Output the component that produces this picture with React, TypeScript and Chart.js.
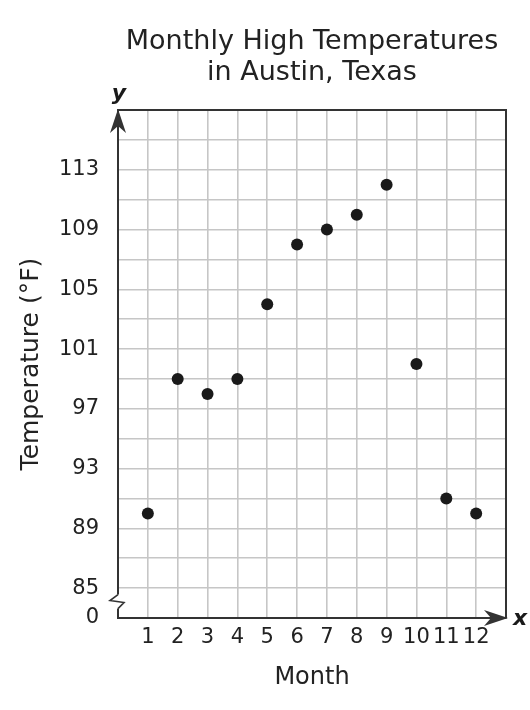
import React, { useEffect, useRef } from "react";
import { Chart, registerables } from "chart.js";

Chart.register(...registerables);

// ---- data ----
const MONTHS = [1, 2, 3, 4, 5, 6, 7, 8, 9, 10, 11, 12];
const HIGH_TEMPS = [90, 99, 98, 99, 104, 108, 109, 110, 112, 100, 91, 90];
const Y_TICK_LABELS = [85, 89, 93, 97, 101, 105, 109, 113];
const Y_BREAK_VALUE = 83; // value drawn as "0" below the axis break
const Y_BREAK_LABEL = "0";
const X_MIN = 0;
const X_MAX = 13;
const Y_MIN = 83;
const Y_MAX = 117;

const TITLE_LINES = ["Monthly High Temperatures", "in Austin, Texas"];
const X_TITLE = "Month";
const Y_TITLE = "Temperature (°F)";

// ---- styles ----
const FONT = "'DejaVu Sans', Verdana, sans-serif";
const TEXT = "#222222";
const GRID = "#c6c6c6";
const AXIS = "#333333";
const DOT = "#1a1a1a";

const decorations = {
  id: "decorations",
  afterDraw(chart: any) {
    const { ctx, chartArea } = chart;
    const { left, right, top, bottom } = chartArea;
    ctx.save();
    // top + right border
    ctx.strokeStyle = AXIS;
    ctx.lineWidth = 2;
    ctx.beginPath();
    ctx.moveTo(left, top);
    ctx.lineTo(right, top);
    ctx.lineTo(right, bottom);
    ctx.stroke();

    ctx.fillStyle = AXIS;
    // y arrow
    ctx.beginPath();
    ctx.moveTo(left, top - 1);
    ctx.lineTo(left - 8, top + 23);
    ctx.lineTo(left, top + 16);
    ctx.lineTo(left + 8, top + 23);
    ctx.closePath();
    ctx.fill();
    // x arrow
    ctx.beginPath();
    ctx.moveTo(right + 2, bottom);
    ctx.lineTo(right - 22, bottom - 8);
    ctx.lineTo(right - 15, bottom);
    ctx.lineTo(right - 22, bottom + 8);
    ctx.closePath();
    ctx.fill();

    // axis break
    const yb = chart.scales.y.getPixelForValue(Y_BREAK_VALUE + 1.1);
    ctx.fillStyle = "#ffffff";
    ctx.fillRect(left - 2, yb - 7, 4, 14);
    ctx.strokeStyle = AXIS;
    ctx.lineWidth = 1.6;
    ctx.beginPath();
    ctx.moveTo(left, yb - 7);
    ctx.lineTo(left - 8, yb - 1);
    ctx.lineTo(left + 6, yb + 1);
    ctx.lineTo(left, yb + 7);
    ctx.stroke();

    // axis letters
    ctx.fillStyle = "#1a1a1a";
    ctx.font = `italic bold 22px ${FONT}`;
    ctx.textAlign = "center";
    ctx.textBaseline = "middle";
    ctx.fillText("y", left + 1, top - 16);
    ctx.fillText("x", right + 14, bottom + 1);
    ctx.restore();
  },
};

export default function App() {
  const ref = useRef<HTMLCanvasElement | null>(null);

  useEffect(() => {
    if (!ref.current) return;
    const chart = new Chart(ref.current, {
      type: "scatter",
      data: {
        datasets: [
          {
            data: MONTHS.map((m, i) => ({ x: m, y: HIGH_TEMPS[i] })),
            backgroundColor: DOT,
            borderWidth: 0,
            pointRadius: 6,
            pointHoverRadius: 6,
          },
        ],
      },
      options: {
        responsive: false,
        animation: false,
        layout: { padding: { left: 0, right: 24, top: 0, bottom: 0 } },
        plugins: {
          legend: { display: false },
          tooltip: { enabled: false },
          title: {
            display: true,
            text: TITLE_LINES,
            fullSize: false,
            color: TEXT,
            font: { family: FONT, size: 27, weight: "normal", lineHeight: 1.15 },
            padding: { top: 26, bottom: 22 },
          },
        },
        scales: {
          x: {
            type: "linear",
            min: X_MIN,
            max: X_MAX,
            afterFit: (s: any) => {
              s.height = 92;
            },
            ticks: {
              stepSize: 1,
              autoSkip: false,
              maxRotation: 0,
              padding: 7,
              color: TEXT,
              font: { family: FONT, size: 21 },
              callback: (v: any) => (MONTHS.includes(v) ? String(v) : ""),
            },
            grid: { color: GRID, lineWidth: 1.6, drawTicks: false },
            border: { color: AXIS, width: 2 },
            title: {
              display: true,
              text: X_TITLE,
              color: TEXT,
              font: { family: FONT, size: 24 },
              padding: { top: 0, bottom: 18 },
            },
          },
          y: {
            type: "linear",
            min: Y_MIN,
            max: Y_MAX,
            afterFit: (s: any) => {
              s.width = 118;
            },
            ticks: {
              stepSize: 2,
              autoSkip: false,
              padding: 19,
              color: TEXT,
              font: { family: FONT, size: 21 },
              callback: (v: any) =>
                v === Y_BREAK_VALUE
                  ? Y_BREAK_LABEL
                  : Y_TICK_LABELS.includes(v)
                  ? String(v)
                  : "",
            },
            grid: { color: GRID, lineWidth: 1.6, drawTicks: false },
            border: { color: AXIS, width: 2 },
            title: {
              display: true,
              text: Y_TITLE,
              color: TEXT,
              font: { family: FONT, size: 25 },
              padding: { top: 16, bottom: 0 },
            },
          },
        },
      },
      plugins: [decorations],
    });
    return () => chart.destroy();
  }, []);

  return (
    <div style={{ position: "absolute", left: 0, top: 0, width: 530, height: 710, background: "#fff" }}>
      <canvas ref={ref} width={530} height={710} />
    </div>
  );
}
